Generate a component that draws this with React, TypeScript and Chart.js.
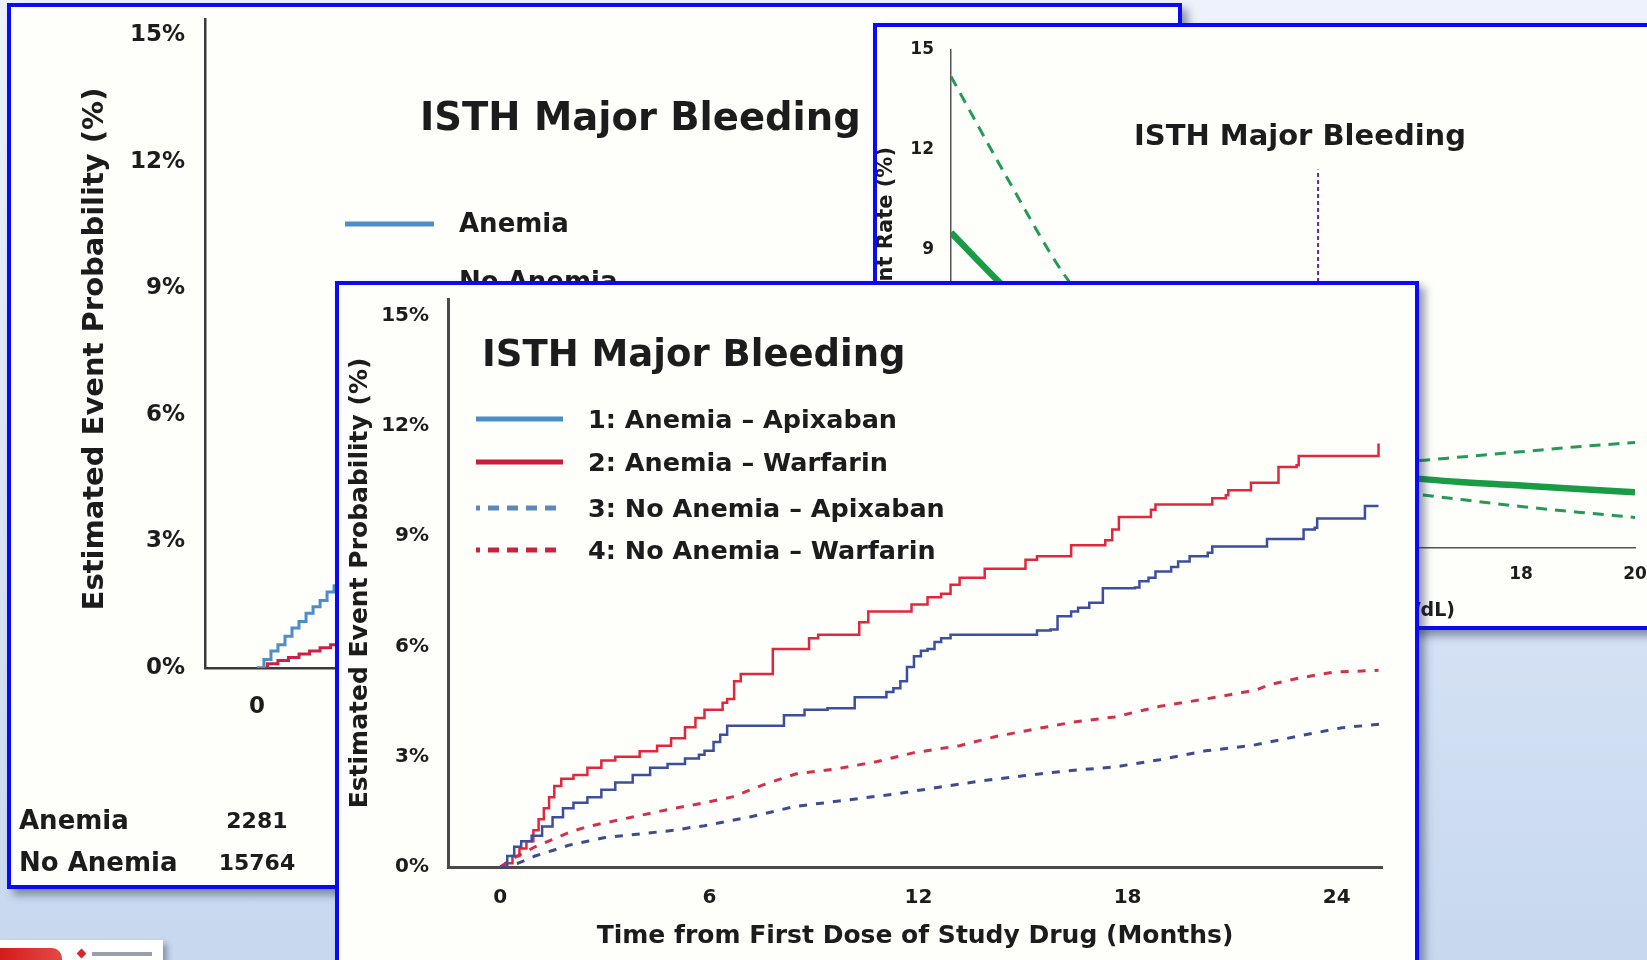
import React, { useEffect, useRef } from "react";
import { Chart, registerables } from "chart.js";

Chart.register(...registerables);

const FONT = '"DejaVu Sans", Verdana, sans-serif';
const INK = "#1c1c1c";

// ---------------- Front chart: ISTH Major Bleeding, anemia x treatment ----------------
const MONTH_TICKS = [0, 6, 12, 18, 24];
const PCT_TICKS = [0, 3, 6, 9, 12, 15];
const FRONT_TITLE = "ISTH Major Bleeding";
const FRONT_X_TITLE = "Time from First Dose of Study Drug (Months)";
const FRONT_Y_TITLE = "Estimated Event Probability (%)";
const SERIES_LABELS = [
  "1: Anemia – Apixaban",
  "2: Anemia – Warfarin",
  "3: No Anemia – Apixaban",
  "4: No Anemia – Warfarin",
];

const ANEMIA_APIX_T = [0, 0.2, 0.4, 0.6, 0.9, 1.2, 1.5, 1.8, 2.1, 2.5, 2.9, 3.3, 3.8, 4.3, 4.8, 5.3, 5.7, 5.86, 6.12, 6.31, 6.51, 8.14, 8.73, 9.39, 10.17, 11.08, 11.28, 11.48, 11.67, 11.87, 12.07, 12.26, 12.46, 12.65, 12.92, 15.4, 15.79, 15.99, 16.38, 16.58, 16.9, 17.29, 18.21, 18.34, 18.6, 18.8, 19.25, 19.45, 19.78, 20.3, 20.43, 22.0, 23.05, 23.37, 23.44, 24.81, 25.2];
const ANEMIA_APIX_V = [0, 0.3, 0.55, 0.7, 0.85, 1.1, 1.35, 1.6, 1.75, 1.9, 2.1, 2.3, 2.5, 2.7, 2.8, 2.95, 3.05, 3.16, 3.4, 3.6, 3.84, 4.13, 4.28, 4.32, 4.62, 4.76, 4.86, 5.05, 5.44, 5.73, 5.88, 5.93, 6.12, 6.22, 6.32, 6.43, 6.46, 6.82, 6.95, 7.05, 7.19, 7.58, 7.6, 7.77, 7.87, 8.04, 8.16, 8.31, 8.45, 8.55, 8.72, 8.92, 9.18, 9.23, 9.48, 9.82, 9.82];

const ANEMIA_WARF_T = [0, 0.15, 0.35, 0.55, 0.75, 0.95, 1.1, 1.25, 1.4, 1.55, 1.75, 2.1, 2.5, 2.9, 3.3, 4.0, 4.5, 4.9, 5.3, 5.6, 5.86, 6.38, 6.51, 6.71, 6.9, 7.82, 8.86, 9.12, 10.3, 10.56, 11.8, 12.26, 12.65, 12.92, 13.18, 13.9, 15.07, 15.4, 16.38, 17.36, 17.56, 17.75, 18.67, 18.8, 20.43, 20.82, 20.89, 21.54, 22.33, 22.85, 22.91, 25.2];
const ANEMIA_WARF_V = [0, 0.1, 0.3, 0.5, 0.7, 1.0, 1.3, 1.6, 1.9, 2.2, 2.4, 2.5, 2.7, 2.9, 3.0, 3.15, 3.3, 3.5, 3.8, 4.05, 4.28, 4.47, 4.57, 5.05, 5.25, 5.93, 6.22, 6.32, 6.66, 6.95, 7.14, 7.34, 7.43, 7.68, 7.87, 8.11, 8.36, 8.45, 8.75, 8.89, 9.18, 9.52, 9.72, 9.86, 10.03, 10.11, 10.25, 10.45, 10.88, 10.93, 11.18, 11.52];

const NOANEMIA_APIX_T = [0, 0.5, 1.0, 1.5, 2.0, 2.5, 3.0, 3.5, 4.0, 4.5, 5.0, 5.5, 5.86, 7.16, 8.47, 9.78, 11.35, 12.39, 13.7, 15.0, 16.31, 17.62, 18.93, 20.24, 21.54, 22.85, 24.16, 25.33];
const NOANEMIA_APIX_V = [0, 0.1, 0.3, 0.45, 0.6, 0.7, 0.8, 0.85, 0.9, 0.95, 1.0, 1.08, 1.12, 1.36, 1.65, 1.8, 1.99, 2.14, 2.33, 2.48, 2.62, 2.72, 2.92, 3.16, 3.3, 3.55, 3.79, 3.89];

const NOANEMIA_WARF_T = [0, 0.3, 0.6, 1.0, 1.5, 2.0, 2.5, 3.0, 3.5, 4.0, 4.5, 5.0, 5.5, 5.86, 6.64, 7.56, 8.47, 9.65, 10.82, 11.87, 13.18, 14.22, 15.27, 16.44, 17.62, 18.93, 20.24, 21.67, 22.07, 22.98, 23.9, 25.2];
const NOANEMIA_WARF_V = [0, 0.2, 0.35, 0.55, 0.75, 0.95, 1.1, 1.2, 1.3, 1.4, 1.5, 1.6, 1.68, 1.75, 1.9, 2.24, 2.53, 2.67, 2.87, 3.11, 3.3, 3.55, 3.74, 3.94, 4.08, 4.37, 4.57, 4.81, 4.96, 5.15, 5.3, 5.35];

// ---------------- Back-left chart: anemia vs no anemia ----------------
const BACK_LEGEND = ["Anemia", "No Anemia"];
const BACK_ANEMIA_T = [0, 0.2, 0.4, 0.6, 0.8, 1.0, 1.2, 1.4, 1.6, 1.8, 2.0, 2.2, 2.4, 3, 4, 5, 6, 8, 10, 12, 14, 16, 18, 20, 22, 24, 25.2];
const BACK_ANEMIA_V = [0, 0.2, 0.4, 0.55, 0.75, 0.95, 1.1, 1.3, 1.45, 1.6, 1.8, 1.95, 2.05, 2.3, 2.7, 3.1, 3.6, 4.3, 4.9, 5.9, 6.6, 7.2, 8.2, 8.9, 9.6, 10.3, 10.5];
const BACK_NOANEMIA_T = [0, 0.3, 0.6, 0.9, 1.2, 1.5, 1.8, 2.1, 2.4, 3, 4, 5, 6, 8, 10, 12, 14, 16, 18, 20, 22, 24, 25.2];
const BACK_NOANEMIA_V = [0, 0.1, 0.18, 0.25, 0.33, 0.4, 0.48, 0.55, 0.62, 0.75, 0.95, 1.15, 1.35, 1.7, 2.1, 2.5, 2.9, 3.2, 3.5, 3.8, 4.1, 4.5, 4.6];
const RISK_GROUPS = ["Anemia", "No Anemia"];
const RISK_AT_ZERO = [2281, 15764];

// ---------------- Back-right chart: event rate by hemoglobin ----------------
const HB_TICKS = [8, 10, 12, 14, 16, 18, 20];
const RATE_TICKS = [0, 3, 6, 9, 12, 15];
const HB = [8, 9, 10, 11, 12, 13, 14, 15, 16, 17, 18, 19, 20];
const RATE_EST = [9.5, 7.75, 6.2, 4.9, 3.9, 3.2, 2.7, 2.35, 2.12, 1.98, 1.88, 1.78, 1.68];
const RATE_UPPER = [14.2, 11.1, 8.2, 6.2, 4.8, 3.8, 3.1, 2.75, 2.63, 2.75, 2.9, 3.05, 3.18];
const RATE_LOWER = [5.6, 4.8, 4.0, 3.3, 2.8, 2.4, 2.1, 1.9, 1.66, 1.45, 1.25, 1.08, 0.92];
const HB_MARK_X = [14.44, 14.44];
const HB_MARK_Y = [0, 11.4];
const RIGHT_X_TITLE = "Hemoglobin (g/dL)";
const RIGHT_Y_TITLE = "Adjusted Event Rate (%)";

const pts = (t: number[], v: number[]) => t.map((x, i) => ({ x, y: v[i] }));

type TextItem = { text: string; x: number; y: number; size: number; align?: CanvasTextAlign; xValue?: number; rotate?: boolean };
type LineItem = { x1: number; x2: number; y: number; color: string; width: number; dash?: number[]; offset?: number };

const overlay = (id: string, texts: TextItem[], lines: LineItem[]) => ({
  id,
  afterDraw(chart: any) {
    const ctx: CanvasRenderingContext2D = chart.ctx;
    ctx.save();
    lines.forEach((l) => {
      ctx.beginPath();
      ctx.setLineDash(l.dash || []);
      ctx.lineDashOffset = l.offset || 0;
      ctx.strokeStyle = l.color;
      ctx.lineWidth = l.width;
      ctx.lineCap = "butt";
      ctx.moveTo(l.x1, l.y);
      ctx.lineTo(l.x2, l.y);
      ctx.stroke();
    });
    ctx.setLineDash([]);
    texts.forEach((t) => {
      const x = t.xValue !== undefined ? chart.scales.x.getPixelForValue(t.xValue) : t.x;
      ctx.font = `bold ${t.size}px ${FONT}`;
      ctx.fillStyle = INK;
      ctx.textAlign = t.align || "left";
      if (t.rotate) {
        ctx.save();
        ctx.translate(x, t.y);
        ctx.rotate(-Math.PI / 2);
        ctx.textBaseline = "middle";
        ctx.fillText(t.text, 0, 0);
        ctx.restore();
      } else {
        ctx.textBaseline = "alphabetic";
        ctx.fillText(t.text, x, t.y + t.size * 0.365);
      }
    });
    ctx.restore();
  },
});

const fixTicks = (vals: number[]) => (s: any) => {
  s.ticks = vals.map((value) => ({ value }));
};
const fixWidth = (w: number) => (s: any) => {
  s.width = w;
  s.paddingTop = 0;
  s.paddingBottom = 0;
};
const fixHeight = (h: number) => (s: any) => {
  s.height = h;
  s.paddingLeft = 0;
  s.paddingRight = 0;
};
const bold = (size: number, lineHeight = 1.2) => ({ family: FONT, size, weight: "bold" as const, lineHeight });

function frontConfig(): any {
  const lineBase = { pointRadius: 0, fill: false };
  return {
    type: "line",
    data: {
      datasets: [
        { ...lineBase, label: SERIES_LABELS[0], data: pts(ANEMIA_APIX_T, ANEMIA_APIX_V), borderColor: "#3b4f9e", borderWidth: 2.5, stepped: "before" },
        { ...lineBase, label: SERIES_LABELS[1], data: pts(ANEMIA_WARF_T, ANEMIA_WARF_V), borderColor: "#e0283c", borderWidth: 2.5, stepped: "before" },
        { ...lineBase, label: SERIES_LABELS[2], data: pts(NOANEMIA_APIX_T, NOANEMIA_APIX_V), borderColor: "#3d4c8f", borderWidth: 3, borderDash: [8, 9] },
        { ...lineBase, label: SERIES_LABELS[3], data: pts(NOANEMIA_WARF_T, NOANEMIA_WARF_V), borderColor: "#d3304a", borderWidth: 3, borderDash: [8, 9] },
      ],
    },
    options: {
      animation: false,
      responsive: false,
      devicePixelRatio: 1,
      layout: { padding: { left: 0, top: 14, right: 33, bottom: 0 } },
      plugins: { legend: { display: false }, tooltip: { enabled: false }, title: { display: false } },
      scales: {
        x: {
          type: "linear",
          min: -1.5,
          max: 25.3,
          afterBuildTicks: fixTicks(MONTH_TICKS),
          afterFit: fixHeight(93),
          grid: { display: false, drawTicks: false, tickLength: 0 },
          border: { display: true, color: "#4a4a4a", width: 3 },
          ticks: { padding: 19, color: INK, font: bold(20), maxRotation: 0, autoSkip: false },
          title: { display: true, text: FRONT_X_TITLE, color: INK, font: bold(25), padding: { top: 0, bottom: 9 } },
        },
        y: {
          type: "linear",
          min: 0,
          max: 15.45,
          afterBuildTicks: fixTicks(PCT_TICKS),
          afterFit: fixWidth(109),
          grid: { display: false, drawTicks: false, tickLength: 0 },
          border: { display: true, color: "#4a4a4a", width: 3 },
          ticks: { padding: 19, color: INK, font: bold(20), callback: (v: number) => `${v}%` },
          title: { display: true, text: FRONT_Y_TITLE, color: INK, font: bold(25), padding: { top: 6, bottom: 0 } },
        },
      },
    },
    plugins: [
      overlay(
        "frontText",
        [
          { text: FRONT_TITLE, x: 143, y: 67, size: 37 },
          { text: SERIES_LABELS[0], x: 249, y: 134, size: 25.5 },
          { text: SERIES_LABELS[1], x: 249, y: 177, size: 25.5 },
          { text: SERIES_LABELS[2], x: 249, y: 223, size: 25.5 },
          { text: SERIES_LABELS[3], x: 249, y: 265, size: 25.5 },
        ],
        [
          { x1: 137, x2: 224, y: 134, color: "#4b8dcb", width: 5 },
          { x1: 137, x2: 224, y: 177, color: "#c81e3c", width: 5 },
          { x1: 137, x2: 224, y: 223, color: "#5d87b8", width: 5, dash: [11, 8], offset: 7 },
          { x1: 137, x2: 224, y: 265, color: "#c52440", width: 5, dash: [11, 8], offset: 7 },
        ]
      ),
    ],
  };
}

function leftConfig(): any {
  const lineBase = { pointRadius: 0, fill: false, stepped: "before", borderWidth: 3 };
  return {
    type: "line",
    data: {
      datasets: [
        { ...lineBase, label: BACK_LEGEND[0], data: pts(BACK_ANEMIA_T, BACK_ANEMIA_V), borderColor: "#4d8ec4" },
        { ...lineBase, label: BACK_LEGEND[1], data: pts(BACK_NOANEMIA_T, BACK_NOANEMIA_V), borderColor: "#cc2044" },
      ],
    },
    options: {
      animation: false,
      responsive: false,
      devicePixelRatio: 1,
      layout: { padding: { left: 0, top: 12, right: 37, bottom: 0 } },
      plugins: { legend: { display: false }, tooltip: { enabled: false } },
      scales: {
        x: {
          type: "linear",
          min: -1.48,
          max: 25.2,
          afterBuildTicks: fixTicks(MONTH_TICKS),
          afterFit: fixHeight(217),
          grid: { display: false, drawTicks: false, tickLength: 0 },
          border: { display: true, color: "#3a3a3a", width: 2.5 },
          ticks: { padding: 25, color: INK, font: bold(23), maxRotation: 0, autoSkip: false },
        },
        y: {
          type: "linear",
          min: 0,
          max: 15.38,
          afterBuildTicks: fixTicks(PCT_TICKS),
          afterFit: fixWidth(194),
          grid: { display: false, drawTicks: false, tickLength: 0 },
          border: { display: true, color: "#3a3a3a", width: 2.5 },
          ticks: { padding: 20, color: INK, font: bold(23), callback: (v: number) => `${v}%` },
        },
      },
    },
    plugins: [
      overlay(
        "leftText",
        [
          { text: FRONT_Y_TITLE, x: 84, y: 342, size: 29, align: "center", rotate: true },
          { text: FRONT_TITLE, x: 409, y: 109, size: 38.5 },
          { text: BACK_LEGEND[0], x: 448, y: 216, size: 26 },
          { text: BACK_LEGEND[1], x: 448, y: 274, size: 26 },
          { text: RISK_GROUPS[0], x: 8, y: 813, size: 26 },
          { text: RISK_GROUPS[1], x: 8, y: 855, size: 26 },
          { text: String(RISK_AT_ZERO[0]), x: 0, xValue: 0, y: 813, size: 22, align: "center" },
          { text: String(RISK_AT_ZERO[1]), x: 0, xValue: 0, y: 855, size: 22, align: "center" },
        ],
        [
          { x1: 334, x2: 423, y: 217, color: "#4d8ec4", width: 5 },
          { x1: 334, x2: 423, y: 278, color: "#cc2044", width: 5 },
        ]
      ),
    ],
  };
}

function rightConfig(): any {
  const base = { pointRadius: 0, fill: false, cubicInterpolationMode: "monotone" };
  return {
    type: "line",
    data: {
      datasets: [
        { ...base, label: "Upper 95% CI", data: pts(HB, RATE_UPPER), borderColor: "#259a56", borderWidth: 3, borderDash: [11, 8] },
        { ...base, label: "Lower 95% CI", data: pts(HB, RATE_LOWER), borderColor: "#259a56", borderWidth: 3, borderDash: [11, 8] },
        { ...base, label: "Event rate", data: pts(HB, RATE_EST), borderColor: "#1a9c47", borderWidth: 6.5 },
        { pointRadius: 0, fill: false, label: "Marker", data: pts(HB_MARK_X, HB_MARK_Y), borderColor: "#5b2a9a", borderWidth: 2, borderDash: [4, 3] },
      ],
    },
    options: {
      animation: false,
      responsive: false,
      devicePixelRatio: 1,
      layout: { padding: { left: 0, top: 23, right: 34, bottom: 0 } },
      plugins: { legend: { display: false }, tooltip: { enabled: false } },
      scales: {
        x: {
          type: "linear",
          min: 8,
          max: 20,
          afterBuildTicks: fixTicks(HB_TICKS),
          afterFit: fixHeight(78),
          grid: { display: false, drawTicks: false, tickLength: 0 },
          border: { display: true, color: "#555", width: 1.5 },
          ticks: { padding: 16, color: INK, font: bold(17), maxRotation: 0, autoSkip: false },
        },
        y: {
          type: "linear",
          min: 0,
          max: 15,
          afterBuildTicks: fixTicks(RATE_TICKS),
          afterFit: fixWidth(74),
          grid: { display: false, drawTicks: false, tickLength: 0 },
          border: { display: true, color: "#555", width: 1.5 },
          ticks: { padding: 17, color: INK, font: bold(17) },
        },
      },
    },
    plugins: [
      overlay(
        "rightText",
        [
          { text: RIGHT_Y_TITLE, x: 10, y: 120, size: 21, align: "right", rotate: true },
          { text: FRONT_TITLE, x: 257, y: 107, size: 29 },
          { text: RIGHT_X_TITLE, x: 578, y: 582, size: 19, align: "right" },
        ],
        []
      ),
    ],
  };
}

type PanelProps = { left: number; top: number; width: number; height: number; z: number; build: () => any };

function Panel({ left, top, width, height, z, build }: PanelProps) {
  const ref = useRef<HTMLCanvasElement | null>(null);
  const iw = width - 8;
  const ih = height - 8;
  useEffect(() => {
    const chart = new Chart(ref.current as HTMLCanvasElement, build());
    return () => chart.destroy();
  }, []);
  return (
    <div
      style={{
        position: "absolute",
        left,
        top,
        width: iw,
        height: ih,
        border: "4px solid #0a0af6",
        background: "#fefefb",
        boxShadow: "6px 6px 8px rgba(30,40,80,0.45)",
        zIndex: z,
        overflow: "hidden",
      }}
    >
      <canvas ref={ref} width={iw} height={ih} style={{ display: "block", width: iw, height: ih }} />
    </div>
  );
}

export default function App() {
  return (
    <div
      style={{
        position: "fixed",
        left: 0,
        top: 0,
        width: 1647,
        height: 960,
        overflow: "hidden",
        background: "linear-gradient(180deg, #edf2fb 0%, #dce7f6 45%, #c7d8ef 100%)",
      }}
    >
      <Panel left={7} top={3} width={1175} height={886} z={1} build={leftConfig} />
      <Panel left={873} top={23} width={800} height={607} z={2} build={rightConfig} />
      <Panel left={335} top={281} width={1084} height={683} z={3} build={frontConfig} />
      <div
        style={{
          position: "absolute",
          left: 0,
          top: 940,
          width: 163,
          height: 30,
          background: "#ffffff",
          boxShadow: "4px 4px 6px rgba(30,40,80,0.4)",
          zIndex: 1,
        }}
      >
        <div
          style={{
            position: "absolute",
            left: 0,
            top: 8,
            width: 62,
            height: 22,
            borderRadius: "0 10px 0 0",
            background: "linear-gradient(90deg, #d41c1c, #e64848)",
          }}
        />
        <div style={{ position: "absolute", left: 78, top: 10, width: 7, height: 7, background: "#d42a2a", transform: "rotate(45deg)" }} />
        <div style={{ position: "absolute", left: 92, top: 12, width: 60, height: 4, background: "#9aa0aa" }} />
      </div>
    </div>
  );
}
